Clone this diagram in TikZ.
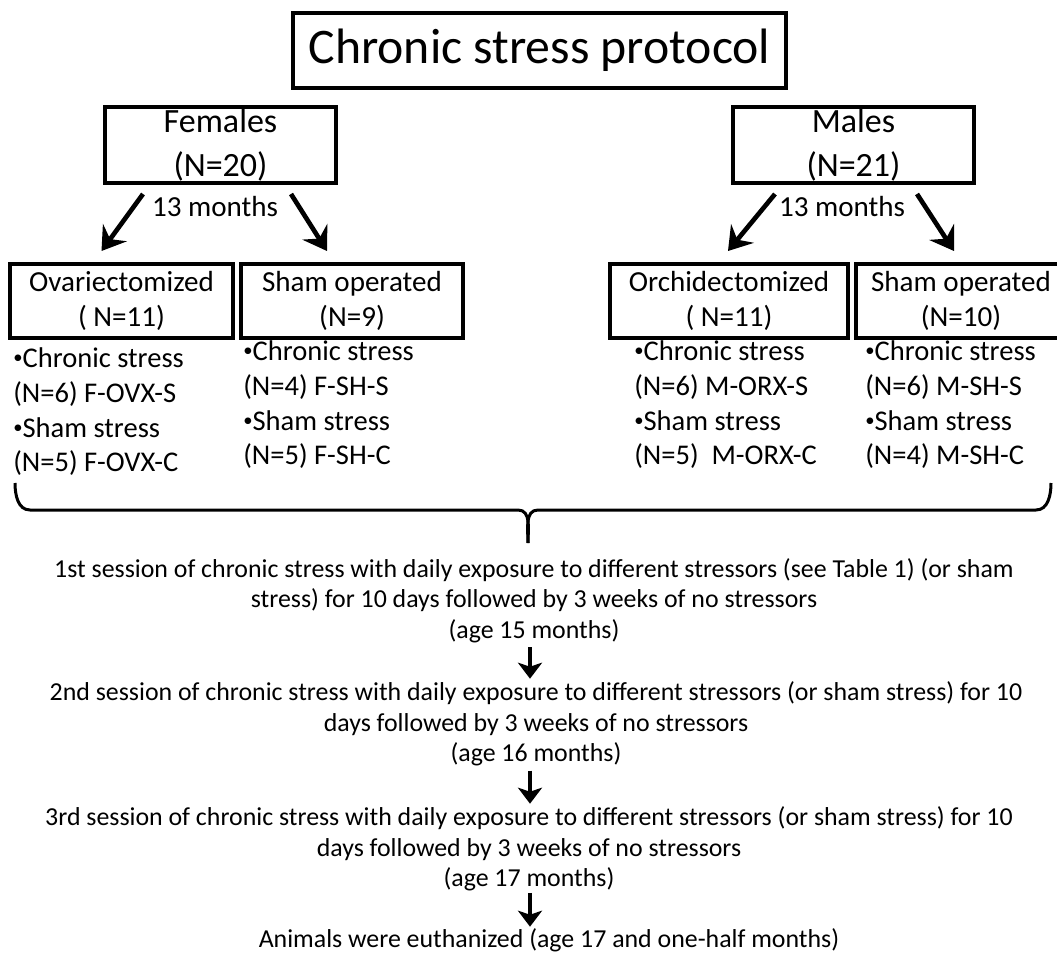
\documentclass[tikz,border=0pt]{standalone}
\usepackage{fontspec}
\setmainfont{Carlito}
\usetikzlibrary{calc,arrows.meta}

\newcommand{\listdot}{\raisebox{0.3ex}{\fontsize{14}{14}\selectfont •}}

\begin{document}
\begin{tikzpicture}[x=0.75pt,y=-0.75pt,
  box/.style={draw,line width=3pt,inner sep=0pt,align=center},
  grouptext/.style={font=\fontsize{25.5}{33}\selectfont},
  armtext/.style={font=\fontsize{21.8}{26}\selectfont},
  listtext/.style={font=\fontsize{21.4}{26}\selectfont,align=left,anchor=west,inner sep=0pt},
  steptext/.style={font=\fontsize{19.4}{23}\selectfont,align=center,inner sep=0pt},
  splitarrow/.style={line width=3.5pt,-{Stealth[length=17pt,width=22pt,inset=6pt]}},
  downarrow/.style={line width=3pt,-{Stealth[length=12pt,width=18pt,inset=3pt]}}]
  \clip (0,0) rectangle (1057,953);
  \node[box,minimum width=369.75pt,minimum height=56.25pt,font=\fontsize{37.3}{42}\selectfont] (title) at (539.5,50.5) {Chronic stress protocol};
  \node[box,grouptext,minimum width=173.25pt,minimum height=57pt] (fem) at (220.5,145) {Females\\(N=20)};
  \node[box,grouptext,minimum width=180.75pt,minimum height=57pt] (mal) at (853.5,145) {Males\\(N=21)};
  \node[armtext] (femage) at (215,207) {13 months};
  \node[armtext] (malage) at (842,207) {13 months};
  \node[box,armtext,minimum width=167.25pt,minimum height=55.5pt] (ovx) at (121.5,301) {Ovariectomized\\( N=11)};
  \node[box,armtext,minimum width=166.5pt,minimum height=55.5pt] (shf) at (352,301) {Sham operated\\(N=9)};
  \node[box,armtext,minimum width=178.5pt,minimum height=55.5pt] (orx) at (729,301) {Orchidectomized\\( N=11)};
  \node[box,armtext,minimum width=157.5pt,minimum height=55.5pt] (shm) at (961,301) {Sham operated\\(N=10)};
  \draw[splitarrow] ($(fem.south west)+(40,9)$) -- ($(ovx.north)+(-20,-11)$);
  \draw[splitarrow] ($(fem.south east)+(-47,9)$) -- ($(shf.north)+(-25,-11)$);
  \draw[splitarrow] ($(mal.south west)+(44,9)$) -- ($(orx.north)+(-1,-11)$);
  \draw[splitarrow] ($(mal.south east)+(-59,9)$) -- ($(shm.north)+(-7,-11)$);
  \node[listtext] (ovxlist) at (13,412) {\listdot Chronic stress\\(N=6) F-OVX-S\\\listdot Sham stress\\(N=5) F-OVX-C};
  \node[listtext] (shflist) at (243,405) {\listdot Chronic stress\\(N=4) F-SH-S\\\listdot Sham stress\\(N=5) F-SH-C};
  \node[listtext] (orxlist) at (634,405) {\listdot Chronic stress\\(N=6) M-ORX-S\\\listdot Sham stress\\(N=5)\ \ M-ORX-C};
  \node[listtext] (shmlist) at (865,405) {\listdot Chronic stress\\(N=6) M-SH-S\\\listdot Sham stress\\(N=4) M-SH-C};
  \draw[line width=2.25pt] (15,483) to[out=-90,in=180] (30,510) -- (518,510) to[out=0,in=90] (528,543);
  \draw[line width=2.25pt] (1051,483) to[out=-90,in=0] (1036,510) -- (538,510) to[out=180,in=90] (528,543);
  \node[steptext] (s1) at (534,600.5) {1st session of chronic stress with daily exposure to different stressors (see Table 1) (or sham\\stress) for 10 days followed by 3 weeks of no stressors\\(age 15 months)};
  \node[steptext] (s2) at (536,724) {2nd session of chronic stress with daily exposure to different stressors (or sham stress) for 10\\days followed by 3 weeks of no stressors\\(age 16 months)};
  \node[steptext] (s3) at (529,849) {3rd session of chronic stress with daily exposure to different stressors (or sham stress) for 10\\days followed by 3 weeks of no stressors\\(age 17 months)};
  \node[steptext] (s4) at (549,940) {Animals were euthanized (age 17 and one-half months)};
  \coordinate (spine) at (530,0);
  \draw[downarrow,shorten <=3pt,shorten >=2pt] (s1.south -| spine) -- (s2.north -| spine);
  \draw[downarrow,shorten <=3pt,shorten >=2pt] (s2.south -| spine) -- (s3.north -| spine);
  \draw[downarrow,shorten <=1pt,shorten >=1pt] (s3.south -| spine) -- (s4.north -| spine);
\end{tikzpicture}
\end{document}
